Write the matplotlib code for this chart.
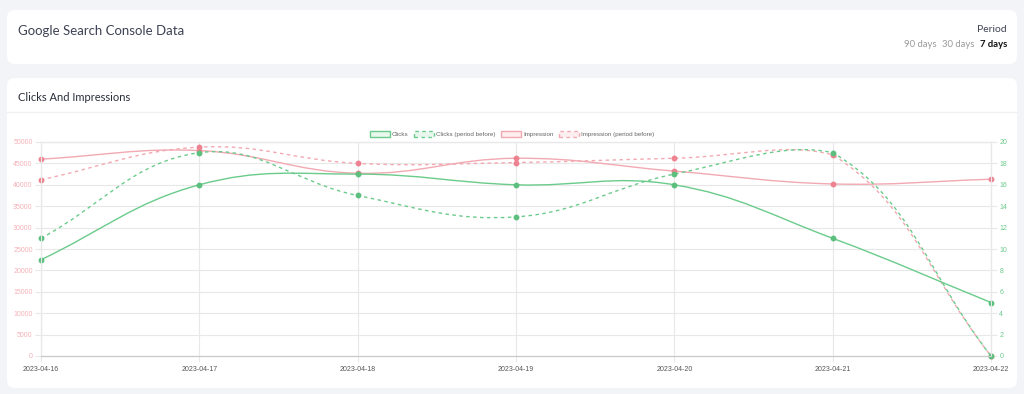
import numpy as np
import matplotlib
matplotlib.use("Agg")
import matplotlib.pyplot as plt
from matplotlib.patches import FancyBboxPatch, Patch, PathPatch
from matplotlib.path import Path

dates = ["2023-04-16", "2023-04-17", "2023-04-18", "2023-04-19",
         "2023-04-20", "2023-04-21", "2023-04-22"]
clicks = [9, 16, 17, 16, 16, 11, 5]
clicks_before = [11, 19, 15, 13, 17, 19, 0]
impressions = [46000, 48000, 42700, 46200, 43200, 40200, 41300]
impressions_before = [41200, 48800, 45000, 45200, 46200, 47000, 0]

green = "#6acb8b"
green_dot = "#5cbf7e"
pink = "#f2a9b2"
pink_dot = "#ee8290"
grid_c = "#e8e8e8"

W, H = 1024, 394
fig = plt.figure(figsize=(W / 100, H / 100), dpi=100)
fig.patch.set_facecolor("#f3f4f8")

# background cards drawn in pixel coordinates
bg = fig.add_axes([0, 0, 1, 1])
bg.set_xlim(0, W)
bg.set_ylim(H, 0)
bg.axis("off")
for (x0, y0, x1, y1) in [(7, 10, 1017, 64), (7, 78, 1017, 388)]:
    bg.add_patch(FancyBboxPatch((x0, y0), x1 - x0, y1 - y0,
                                boxstyle="round,pad=0,rounding_size=8",
                                facecolor="white", edgecolor="none"))
bg.plot([7, 1017], [112, 112], color="#f0f0f3", lw=1)

bg.text(18, 31, "Google Search Console Data", fontsize=9.5, family="Lato",
        color="#3f4254", va="center", ha="left")
bg.text(1007, 29, "Period", fontsize=7.5, family="Lato", color="#3f4254",
        va="center", ha="right")
bg.text(1007, 44, "7 days", fontsize=6.8, family="Lato", color="#111111",
        fontweight="bold", va="center", ha="right")
bg.text(974, 44, "30 days", fontsize=6.8, family="Lato", color="#9a9a9a",
        va="center", ha="right")
bg.text(937, 44, "90 days", fontsize=6.8, family="Lato", color="#9a9a9a",
        va="center", ha="right")
bg.text(18, 97, "Clicks And Impressions", fontsize=8, family="Lato",
        color="#2a2d3a", va="center", ha="left")

# chart
ax = fig.add_axes([41 / W, 1 - 356 / H, 950 / W, 214 / H])
ax2 = ax.twinx()
ax.set_facecolor("none")

ax.set_xlim(0, 6)
ax.set_ylim(0, 50000)
ax2.set_ylim(0, 20)

PX_X = 950 / 6
PX_H = 214


def spline_path(vals, px_per_unit, t=0.4):
    # Chart.js style cubic bezier interpolation, computed in pixel space,
    # control points capped to the chart area
    pts = np.array([[i * PX_X, v * px_per_unit] for i, v in enumerate(vals)])
    n = len(pts)
    cp_in, cp_out = [], []
    for i in range(n):
        cur = pts[i]
        prev = pts[i - 1] if i > 0 else cur
        nxt = pts[i + 1] if i < n - 1 else cur
        d01 = np.hypot(*(cur - prev))
        d12 = np.hypot(*(nxt - cur))
        tot = d01 + d12
        s01 = d01 / tot if tot else 0
        s12 = d12 / tot if tot else 0
        cin = cur - t * s01 * (nxt - prev)
        cout = cur + t * s12 * (nxt - prev)
        cin[1] = min(max(cin[1], 0), PX_H)
        cout[1] = min(max(cout[1], 0), PX_H)
        cp_in.append(cin)
        cp_out.append(cout)
    verts = [pts[0]]
    codes = [Path.MOVETO]
    for i in range(1, n):
        verts += [cp_out[i - 1], cp_in[i], pts[i]]
        codes += [Path.CURVE4] * 3
    verts = np.array(verts)
    verts[:, 0] /= PX_X
    verts[:, 1] /= px_per_unit
    return Path(verts, codes)


imp_px = PX_H / 50000
clk_px = PX_H / 20
dash = (0, (2.5, 2.5))
ax.add_patch(PathPatch(spline_path(impressions, imp_px), fill=False,
                       edgecolor=pink, lw=1.0))
ax.add_patch(PathPatch(spline_path(impressions_before, imp_px), fill=False,
                       edgecolor=pink, lw=1.0, linestyle=dash))
ax2.add_patch(PathPatch(spline_path(clicks, clk_px), fill=False,
                        edgecolor=green, lw=1.0))
ax2.add_patch(PathPatch(spline_path(clicks_before, clk_px), fill=False,
                        edgecolor=green, lw=1.0, linestyle=dash))

xs = np.arange(len(dates))
ax.plot(xs, impressions, "o", color=pink_dot, ms=3.2, clip_on=False)
ax.plot(xs, impressions_before, "o", color=pink_dot, ms=3.2, clip_on=False)
ax2.plot(xs, clicks, "o", color=green_dot, ms=3.2, clip_on=False)
ax2.plot(xs, clicks_before, "o", color=green_dot, ms=3.2, clip_on=False)

ax.set_xticks(xs)
ax.set_xticklabels(dates)
ax.set_yticks(np.arange(0, 50001, 5000))
ax.set_yticklabels([str(v) for v in range(0, 50001, 5000)])
ax2.set_yticks(np.arange(0, 21, 2))

ax.grid(True, color=grid_c, lw=0.8)
ax.set_axisbelow(True)
ax.tick_params(axis="x", length=4, color=grid_c, labelsize=5,
               labelcolor="#555555", pad=3)
ax.tick_params(axis="y", length=4, color=grid_c, labelsize=5,
               labelcolor="#f4b1b8", pad=2)
ax2.tick_params(axis="y", length=4, color=grid_c, labelsize=5,
                labelcolor="#6acb8b", pad=2)
for a in (ax, ax2):
    for name, sp in a.spines.items():
        sp.set_color(grid_c)
        sp.set_linewidth(0.8)
ax.spines["bottom"].set_color("#c8c8c8")
ax2.spines["bottom"].set_color("#c8c8c8")

for lab in ax.get_xticklabels() + ax.get_yticklabels() + ax2.get_yticklabels():
    lab.set_family("Liberation Sans")

handles = [
    Patch(facecolor="#eaf7ee", edgecolor=green, lw=1.0),
    Patch(facecolor="#eaf7ee", edgecolor=green, lw=1.0, linestyle=dash),
    Patch(facecolor="#fdeef0", edgecolor=pink, lw=1.0),
    Patch(facecolor="#fdeef0", edgecolor=pink, lw=1.0, linestyle=dash),
]
labels = ["Clicks", "Clicks (period before)", "Impression", "Impression (period before)"]
leg = fig.legend(handles, labels, loc="center", bbox_to_anchor=(0.5, 1 - 134 / H),
                 ncol=4, frameon=False, handlelength=3.2,
                 handleheight=1.0, columnspacing=0.8, handletextpad=0.4,
                 prop={"family": "Liberation Sans", "size": 4.5})
for txt in leg.get_texts():
    txt.set_color("#666666")

fig.savefig("out.png", dpi=100, facecolor=fig.get_facecolor())
